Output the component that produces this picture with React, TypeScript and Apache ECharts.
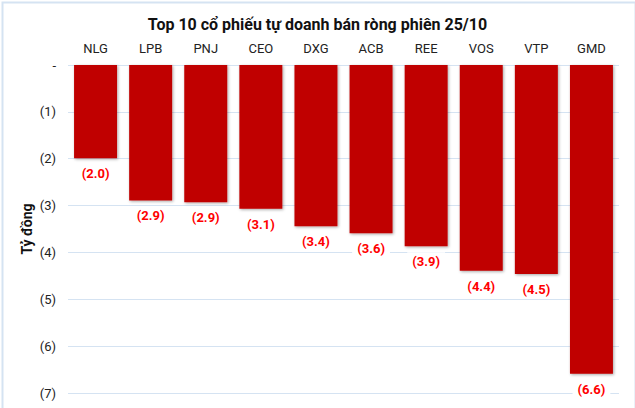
import React, { useEffect, useRef } from "react";
import * as echarts from "echarts";

const categories = ["NLG", "LPB", "PNJ", "CEO", "DXG", "ACB", "REE", "VOS", "VTP", "GMD"];
const values = [-1.99, -2.89, -2.93, -3.07, -3.44, -3.59, -3.87, -4.39, -4.46, -6.59];
const yTicks = [0, -1, -2, -3, -4, -5, -6, -7];

const fmtTick = (v: number) => (v === 0 ? "-" : `(${Math.abs(v)})`);

export default function App() {
  const ref = useRef<HTMLDivElement>(null);
  useEffect(() => {
    document.body.style.margin = "0";
    const chart = echarts.init(ref.current!, undefined, { renderer: "svg" });
    chart.setOption({
      animation: false,
      backgroundColor: "#ffffff",
      textStyle: { fontFamily: "Roboto" },
      title: {
        text: "Top 10 cổ phiếu tự doanh bán ròng phiên 25/10",
        left: "center",
        top: 11,
        textStyle: { fontFamily: "Roboto", fontSize: 16, fontWeight: "bold", color: "#111" },
      },
      graphic: [
        {
          type: "rect",
          left: 0,
          top: 0,
          shape: { width: 633, height: 407 },
          style: { fill: "none", stroke: "#d5e3f2", lineWidth: 2 },
          silent: true,
        },
      ],
      grid: { left: 68, right: 16, top: 65, bottom: 15 },
      xAxis: {
        type: "category",
        position: "top",
        data: categories,
        axisLine: { show: false },
        axisTick: { show: false },
        axisLabel: { color: "#222", fontSize: 13, margin: 10, fontFamily: "Roboto" },
      },
      yAxis: {
        type: "value",
        min: -7,
        max: 0,
        interval: 1,
        name: "Tỷ đồng",
        nameLocation: "middle",
        nameGap: 34,
        nameMoveOverlap: false,
        nameRotate: 90,
        nameTextStyle: { fontSize: 14, fontWeight: "bold", color: "#111", fontFamily: "Roboto" },
        axisLine: { show: false },
        axisTick: { show: false },
        splitLine: { lineStyle: { color: "#d5e3f2", width: 1 } },
        axisLabel: {
          color: "#222",
          fontSize: 13,
          margin: 12,
          fontFamily: "Roboto",
          formatter: (v: number) => (yTicks.includes(v) ? fmtTick(v) : ""),
        },
      },
      series: [
        {
          type: "bar",
          data: values,
          barCategoryGap: "22%",
          itemStyle: {
            color: "#c00000",
            shadowBlur: 3,
            shadowColor: "rgba(0,0,0,0.35)",
            shadowOffsetX: 1,
            shadowOffsetY: 1,
          },
          label: {
            show: true,
            position: "bottom",
            distance: 6,
            color: "#ff0000",
            fontWeight: "bold",
            fontSize: 13,
            fontFamily: "Roboto",
            backgroundColor: "#ffffff",
            padding: [3, 5],
            formatter: (p: any) => `(${Math.abs(p.value).toFixed(1)})`,
          },
        },
      ],
    });
    return () => chart.dispose();
  }, []);
  return <div ref={ref} style={{ width: 635, height: 408 }} />;
}
